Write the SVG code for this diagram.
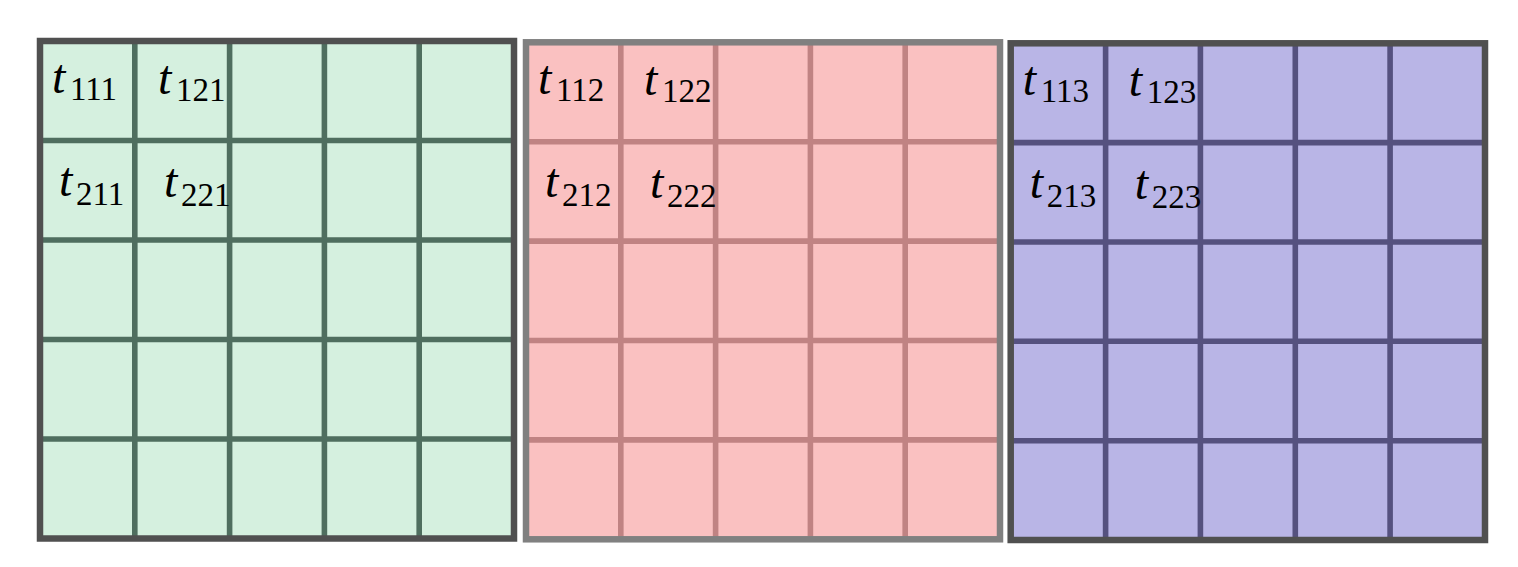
<svg xmlns="http://www.w3.org/2000/svg" width="1518" height="567" viewBox="0 0 1518 567">
<style>
.t{font-family:"Liberation Serif","DejaVu Serif",serif;fill:#000}
.m{font-style:italic;font-size:48px}
.s{font-size:33px}
.g1 .bg{fill:#d5f0df}.g1 .ln{stroke:#4f6e5f}
.g2 .bg{fill:#fac1c1}.g2 .ln{stroke:#c08383}
.g3 .bg{fill:#b9b5e6}.g3 .ln{stroke:#55517f}
.ln{stroke-width:5.6;fill:none}
.bd{fill:none;stroke-width:6.5}
</style>
<g id="panel1" class="g1" transform="translate(40,41)">
<rect class="bg" x="0" y="0" width="474" height="497.5"/>
<path class="ln" d="M94.8 0V497.5M189.6 0V497.5M284.4 0V497.5M379.2 0V497.5M0 99.5H474M0 199H474M0 298.5H474M0 398H474"/>
<rect class="bd" x="0" y="0" width="474" height="497.5" stroke="#505050"/>
<text class="t"><tspan class="m" x="12" y="52">t</tspan><tspan class="s" x="30" y="59">111</tspan></text>
<text class="t"><tspan class="m" x="118" y="53">t</tspan><tspan class="s" x="136" y="60">121</tspan></text>
<text class="t"><tspan class="m" x="19" y="155">t</tspan><tspan class="s" x="36" y="164">211</tspan></text>
<text class="t"><tspan class="m" x="124" y="156">t</tspan><tspan class="s" x="141" y="165">221</tspan></text>
</g>
<g id="panel2" class="g2" transform="translate(526,42.3)">
<rect class="bg" x="0" y="0" width="474" height="497"/>
<path class="ln" d="M94.8 0V497M189.6 0V497M284.4 0V497M379.2 0V497M0 99.4H474M0 198.8H474M0 298.2H474M0 397.6H474"/>
<rect class="bd" x="0" y="0" width="474" height="497" stroke="#808080"/>
<text class="t"><tspan class="m" x="12" y="52">t</tspan><tspan class="s" x="30" y="59">112</tspan></text>
<text class="t"><tspan class="m" x="118" y="53">t</tspan><tspan class="s" x="136" y="60">122</tspan></text>
<text class="t"><tspan class="m" x="19" y="155">t</tspan><tspan class="s" x="36" y="164">212</tspan></text>
<text class="t"><tspan class="m" x="124" y="156">t</tspan><tspan class="s" x="141" y="165">222</tspan></text>
</g>
<g id="panel3" class="g3" transform="translate(1010.7,43.3)">
<rect class="bg" x="0" y="0" width="474.3" height="496.7"/>
<path class="ln" d="M94.9 0V496.7M189.7 0V496.7M284.6 0V496.7M379.4 0V496.7M0 99.3H474.3M0 198.7H474.3M0 298H474.3M0 397.4H474.3"/>
<rect class="bd" x="0" y="0" width="474.3" height="496.7" stroke="#505050"/>
<text class="t"><tspan class="m" x="12" y="52">t</tspan><tspan class="s" x="30" y="59">113</tspan></text>
<text class="t"><tspan class="m" x="118" y="53">t</tspan><tspan class="s" x="136" y="60">123</tspan></text>
<text class="t"><tspan class="m" x="19" y="155">t</tspan><tspan class="s" x="36" y="164">213</tspan></text>
<text class="t"><tspan class="m" x="124" y="156">t</tspan><tspan class="s" x="141" y="165">223</tspan></text>
</g>
</svg>
